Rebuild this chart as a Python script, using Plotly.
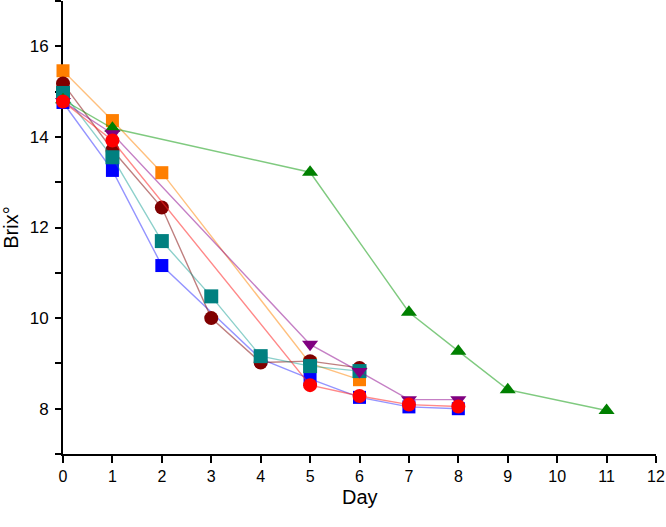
import plotly.graph_objects as go

# Data
orange_x = [0, 1, 2, 5, 6]
orange_y = [15.46, 14.36, 13.21, 9.0, 8.64]

blue_x = [0, 1, 2, 4, 5, 6, 7, 8]
blue_y = [14.76, 13.26, 11.16, 9.1, 8.66, 8.25, 8.04, 8.0]

maroon_x = [0, 1, 2, 3, 4, 5, 6]
maroon_y = [15.18, 13.71, 12.44, 10.0, 9.02, 9.05, 8.9]

teal_x = [0, 1, 2, 3, 4, 5, 6]
teal_y = [14.97, 13.55, 11.70, 10.48, 9.16, 8.94, 8.83]

green_x = [0, 1, 5, 7, 8, 9, 11]
green_y = [14.82, 14.19, 13.22, 10.13, 9.27, 8.42, 7.96]

purple_x = [0, 1, 5, 6, 7, 8]
purple_y = [14.78, 14.07, 9.42, 8.82, 8.20, 8.20]

red_x = [0, 1, 5, 6, 7, 8]
red_y = [14.78, 13.92, 8.52, 8.28, 8.09, 8.05]

y_tick_vals = list(range(7, 18))
y_tick_text = [str(v) if v % 2 == 0 and v <= 16 else "" for v in y_tick_vals]
x_tick_vals = list(range(0, 13))

series = [
    (orange_x, orange_y, "#FF7F00", "rgba(255,150,40,0.6)", "square", 13),
    (blue_x, blue_y, "#0000FF", "rgba(60,60,255,0.55)", "square", 13),
    (maroon_x, maroon_y, "#7F0000", "rgba(128,0,0,0.5)", "circle", 14),
    (teal_x, teal_y, "#008080", "rgba(0,150,140,0.45)", "square", 14),
    (green_x, green_y, "#008000", "rgba(0,150,0,0.5)", "triangle-up", 14),
    (purple_x, purple_y, "#800080", "rgba(140,0,140,0.5)", "triangle-down", 14),
    (red_x, red_y, "#FF0000", "rgba(255,40,40,0.55)", "circle", 14),
]

fig = go.Figure()
for xs, ys, mc, lc, sym, sz in series:
    fig.add_trace(go.Scatter(
        x=xs, y=ys, mode="lines+markers",
        line=dict(color=lc, width=1.4),
        marker=dict(color=mc, symbol=sym, size=sz, line=dict(width=0)),
        cliponaxis=False, showlegend=False, hoverinfo="skip",
    ))

font_family = "Liberation Sans, Arial, sans-serif"
fig.update_layout(
    width=666, height=527,
    margin=dict(l=63, r=10, t=1, b=73, autoexpand=False),
    paper_bgcolor="white", plot_bgcolor="white",
    font=dict(family=font_family, size=15, color="black"),
    xaxis=dict(
        range=[0, 12], tickvals=x_tick_vals, showgrid=False, zeroline=False,
        showline=True, linecolor="black", linewidth=2,
        ticks="outside", ticklen=7, tickwidth=2, tickcolor="black",
        tickfont=dict(size=16), layer="below traces", automargin=False,
        ticklabeloverflow="allow",
    ),
    yaxis=dict(
        range=[7, 17], tickvals=y_tick_vals, ticktext=y_tick_text,
        showgrid=False, zeroline=False,
        showline=True, linecolor="black", linewidth=2,
        ticks="outside", ticklen=6, tickwidth=2, tickcolor="black",
        tickfont=dict(size=17), layer="below traces", automargin=False,
        ticklabelstandoff=3,
        title=dict(text="Brix°", font=dict(size=20), standoff=8),
    ),
    annotations=[dict(
        text="Day", xref="paper", yref="paper", x=0.5, y=0,
        xanchor="center", yanchor="middle", yshift=-43, showarrow=False,
        font=dict(size=20, family=font_family, color="black"),
    )],
)

fig.write_html("out.html", config={"displayModeBar": False},
               post_script="document.body.style.margin='0';")
